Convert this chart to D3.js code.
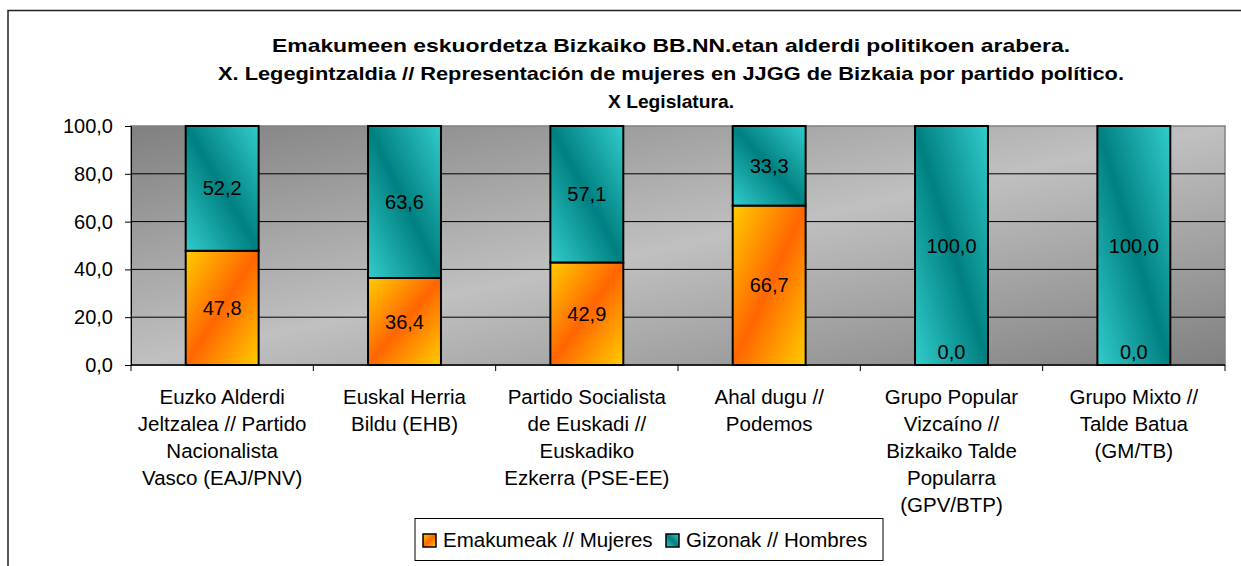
<!DOCTYPE html>
<html><head><meta charset="utf-8">
<script src="https://cdn.jsdelivr.net/npm/d3@7"></script>
<style>body{margin:0;background:#fff}svg{display:block;font-family:"Liberation Sans",Arial,sans-serif}</style>
</head><body><svg id="c" width="1241" height="566"></svg>
<script>
const titleLines = ["Emakumeen eskuordetza Bizkaiko BB.NN.etan alderdi politikoen arabera.",
  "X. Legegintzaldia // Representación de mujeres en JJGG de Bizkaia por partido político.",
  "X Legislatura."];
const categories = [
  ["Euzko Alderdi","Jeltzalea // Partido","Nacionalista","Vasco (EAJ/PNV)"],
  ["Euskal Herria","Bildu (EHB)"],
  ["Partido Socialista","de Euskadi //","Euskadiko","Ezkerra (PSE-EE)"],
  ["Ahal dugu //","Podemos"],
  ["Grupo Popular","Vizcaíno //","Bizkaiko Talde","Popularra","(GPV/BTP)"],
  ["Grupo Mixto //","Talde Batua","(GM/TB)"]
];
const seriesNames = ["Emakumeak // Mujeres","Gizonak // Hombres"];
const mujeres = [47.8, 36.4, 42.9, 66.7, 0.0, 0.0];
const hombres = [52.2, 63.6, 57.1, 33.3, 100.0, 100.0];
const yTicks = [0,20,40,60,80,100];

const svg = d3.select("#c");
const defs = svg.append("defs");
function grad(id, x1,y1,x2,y2, stops){
  const g = defs.append("linearGradient").attr("id",id).attr("x1",x1).attr("y1",y1).attr("x2",x2).attr("y2",y2);
  stops.forEach(s=>g.append("stop").attr("offset",s[0]).attr("stop-color",s[1]));
}
grad("gBg",0,0,1,1,[[0,"#808080"],[0.5,"#c0c0c0"],[1,"#808080"]]);
grad("gOr",0,0,1,1,[[0,"#ffcc00"],[0.5,"#ff6600"],[1,"#ffcc00"]]);
grad("gTe",1,0,0,1,[[0,"#33cccc"],[0.5,"#008080"],[1,"#33cccc"]]);

// outer frame
svg.append("rect").attr("x",8).attr("y",10.5).attr("width",1300).attr("height",700)
  .attr("fill","none").attr("stroke","#222").attr("stroke-width",1.5);

// title
const tw = [798, 906, 126];
titleLines.forEach((t,i)=>{
  svg.append("text").attr("x",671).attr("y",52+i*28).attr("text-anchor","middle")
    .attr("font-weight","bold").attr("font-size",19).attr("fill","#000")
    .attr("textLength",tw[i]).attr("lengthAdjust","spacingAndGlyphs").text(t);
});

const m = {l:131, r:1225, t:126, b:365};
const x = d3.scaleBand().domain(d3.range(categories.length)).range([m.l,m.r]).paddingInner(0.6).paddingOuter(0.3);
const xc = d3.scaleBand().domain(d3.range(categories.length)).range([m.l,m.r]);
const y = d3.scaleLinear().domain([0,100]).range([m.b,m.t]);

svg.append("rect").attr("x",m.l).attr("y",m.t).attr("width",m.r-m.l).attr("height",m.b-m.t)
  .attr("fill","url(#gBg)").attr("stroke","#808080").attr("stroke-width",1.5);

// gridlines
svg.append("g").selectAll("line").data(yTicks.filter(d=>d>0 && d<100)).join("line")
  .attr("x1",m.l).attr("x2",m.r).attr("y1",d=>y(d)).attr("y2",d=>y(d))
  .attr("stroke","#000").attr("stroke-width",1);

// y axis
const ya = svg.append("g").attr("transform",`translate(${m.l},0)`)
  .call(d3.axisLeft(y).tickValues(yTicks).tickSize(6).tickPadding(12).tickFormat(d=>d3.format(".1f")(d).replace(".",",")));
ya.select(".domain").attr("stroke","#000");
ya.selectAll("line").attr("stroke","#000");
ya.selectAll("text").attr("font-size",20).attr("font-family","Liberation Sans, Arial").attr("fill","#000");

// x axis
const xa = svg.append("g").attr("transform",`translate(0,${m.b})`);
xa.append("line").attr("x1",m.l).attr("x2",m.r).attr("stroke","#000").attr("stroke-width",1.5);
xa.selectAll("line.t").data(d3.range(categories.length+1)).join("line").attr("class","t")
  .attr("x1",d=>d<categories.length?xc(d):m.r).attr("x2",d=>d<categories.length?xc(d):m.r)
  .attr("y1",0).attr("y2",6).attr("stroke","#000");

// bars
const stacks = d3.range(categories.length).map(i=>[
  {y0:0,y1:mujeres[i],v:mujeres[i],f:"url(#gOr)"},
  {y0:mujeres[i],y1:mujeres[i]+hombres[i],v:hombres[i],f:"url(#gTe)"}]);
const bars = svg.append("g");
stacks.forEach((st,i)=>{
  st.forEach(s=>{
    if(s.v>0) bars.append("rect").attr("x",x(i)).attr("width",x.bandwidth())
      .attr("y",y(s.y1)).attr("height",y(s.y0)-y(s.y1))
      .attr("fill",s.f).attr("stroke","#000").attr("stroke-width",2);
  });
});
// labels
stacks.forEach((st,i)=>{
  st.forEach(s=>{
    let cy = (y(s.y0)+y(s.y1))/2;
    if(s.v===0) cy = y(0)-13;
    svg.append("text").attr("x",x(i)+x.bandwidth()/2).attr("y",cy).attr("dy","0.35em")
      .attr("text-anchor","middle").attr("font-size",20).attr("fill","#000")
      .text(d3.format(".1f")(s.v).replace(".",","));
  });
});

// category labels
categories.forEach((lines,i)=>{
  const t = svg.append("text").attr("text-anchor","middle").attr("font-size",20.5).attr("fill","#000");
  lines.forEach((l,j)=>t.append("tspan").attr("x",xc(i)+xc.bandwidth()/2).attr("y",404+j*27).text(l));
});

// legend
const lg = svg.append("g");
lg.append("rect").attr("x",415).attr("y",518.5).attr("width",468).attr("height",42)
  .attr("fill","#fff").attr("stroke","#000").attr("stroke-width",1);
const lx = [423, 666];
seriesNames.forEach((n,i)=>{
  lg.append("rect").attr("x",lx[i]).attr("y",534).attr("width",13).attr("height",13)
    .attr("fill",i===0?"url(#gOr)":"url(#gTe)").attr("stroke","#000").attr("stroke-width",1.5);
  lg.append("text").attr("x",lx[i]+20).attr("y",540).attr("dy","0.35em").attr("font-size",20.5).attr("fill","#000").text(n);
});
</script></body></html>
